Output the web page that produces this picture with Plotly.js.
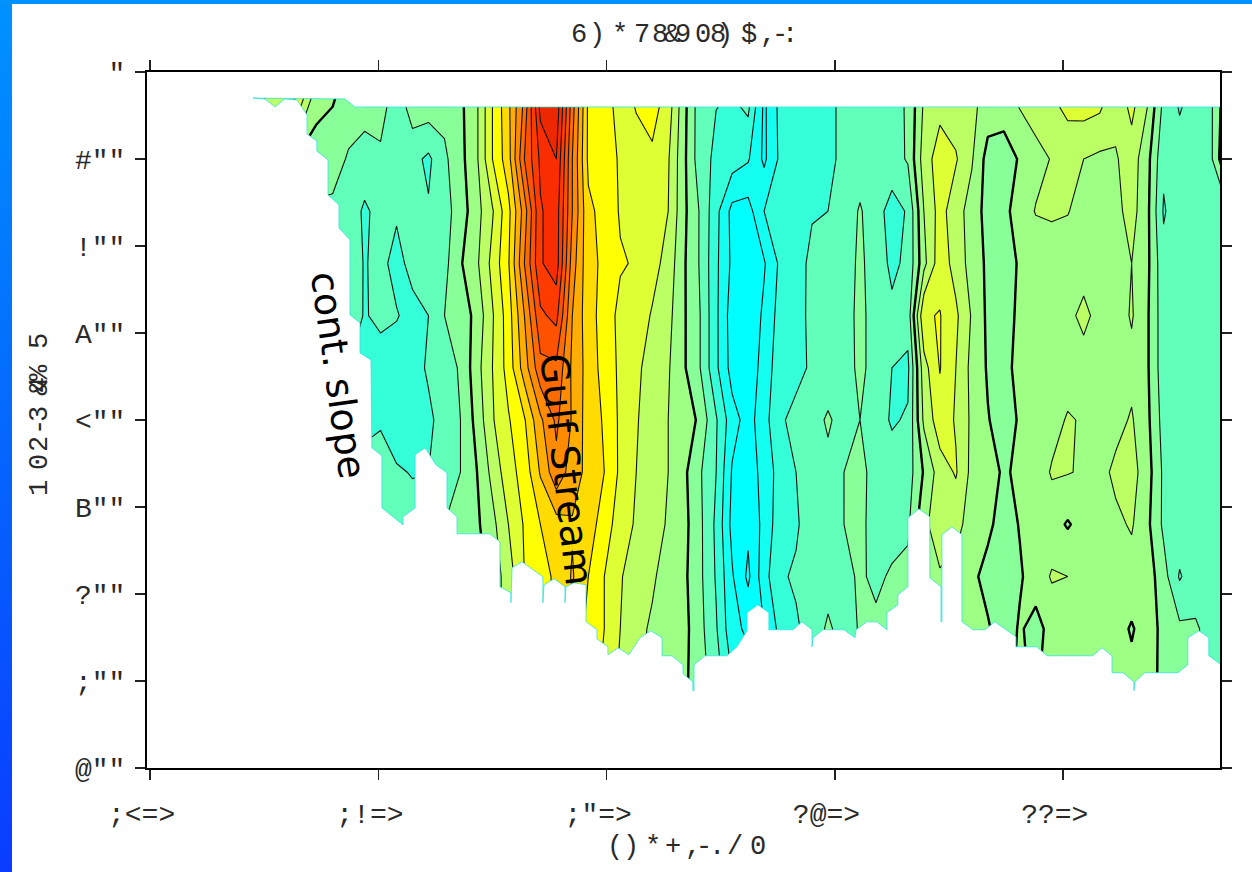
<!DOCTYPE html>
<html>
<head>
<meta charset="utf-8">
<script src="https://cdn.plot.ly/plotly-3.0.1.min.js"></script>
<style>
html,body{margin:0;padding:0;background:#fff;width:1252px;height:872px;overflow:hidden}
#barL{position:absolute;left:0;top:0;width:12px;height:872px;background:linear-gradient(#0092ff,#0a3cff)}
#barT{position:absolute;left:0;top:0;width:1252px;height:4px;background:#0092ff}
#chart{position:absolute;left:0;top:0;width:1252px;height:872px}
</style>
</head>
<body>
<div id="chart"></div>
<div id="barL"></div><div id="barT"></div>
<script>
// axis labels exactly as they appear in the reference
const xTickVals = [0,100,200,300,400];
const xTickText = [';<=>\u00a0',';!=>\u00a0',';"=>\u00a0','?@=>\u00a0','??=>\u00a0'];
const yTickVals = [0,100,200,300,400,500,600,700,800];
const yTickText = ['"','#""','!""','A""','<""','B""','?""',';""','@""'];

const titleChars = ['6',')','*','7','8','&','9','0','8',')','$',',','-',':'];
const xTitleChars = ['(',')','*','+',',','-','.','/','0'];
const yTitleChars = ['5','%','4','&','3','-','2','0','1'];

// section stations
const stations = [45,52,59,66,73,80,87,94,101,108,115,122,129,136,143,150,157,164,171,178,185,192,199,206,213,220,227,234,241,248,255,262,269,276,283,290,297,304,311,318,325,332,339,346,353,360,367,374,381,388,395,402,409,416,423,430,437,444,451,458,465,472];
const depths = [30,100,160,220,280,340,400,460,520,580,640,700,720];

const d30 = [0.5,1.2,1.5,2.4,0.3,0.1,-0.5,-0.7,-0.5,-1.5,-0.3,-0.2,-0.6,-0.2,0.8,3.0,4.8,7.2,11.5,11.8,7.5,3.8,3.3,2.7,3.1,3.5,2.6,0.3,-1.6,-1.95,-2.05,-1.6,-4.2,-2.7,-2.7,-2.5,-2.3,-1.7,-1.4,-1.4,-1.3,-0.9,1.1,1.6,1.4,1.2,0.7,0.6,1.2,1.5,1.9,2.5,2.6,2.4,1.4,2.4,1.1,-1.2,-2.2,-1.6,-1.1,0.8];
const d100 = [-0.4,-0.4,-0.4,-0.4,-0.4,-0.6,-1.1,-1.25,-1.2,-1.6,-1.7,-2.2,-1.2,-0.3,0.8,3.0,4.6,8.0,10.2,11.0,7,3.8,3.4,2.9,2.7,2.8,2.1,0.2,-1.6,-2.2,-2.5,-2.9,-4.2,-2.8,-2.6,-2.5,-2.3,-1.7,-1.5,-1.5,-1.4,-0.9,1.5,2.5,2.1,1.1,-0.4,-0.5,0.1,0.7,1.05,1.15,1.0,0.8,0.9,1.5,0.3,-1.8,-1.5,-1.5,-1.1,1.2];
const d160 = [-1.2,-1.2,-1.2,-1.2,-1.2,-1.2,-1.3,-2.2,-1.6,-1.8,-1.7,-1.9,-1.4,-0.5,0.6,1.9,3.7,6.5,9.9,10.5,7,4.2,3.7,2.9,3.0,2.6,2.0,0.2,-1.1,-2.7,-4.3,-4.4,-3.0,-2.7,-2.5,-2.1,-2.0,-1.6,-0.9,-1.6,-2.4,-1.9,1.0,2.4,1.4,0.6,-0.4,-0.3,0.5,1.05,1.15,1.05,0.6,0.6,0.7,1.4,0.2,-2.1,-1.4,-1.3,-1.3,-1.2];
const d220 = [-1.1,-1.1,-1.1,-1.1,-1.1,-1.1,-1.1,-2.1,-1.6,-2.5,-1.5,-1.4,-1.3,-0.1,0.8,2.3,3.9,7,9.9,10.5,6.5,4.3,3.8,3.1,2.9,2.4,1.6,0.1,-1.1,-2.8,-4.2,-4.6,-4.1,-2.8,-2.5,-1.7,-1.8,-1.5,-0.8,-1.5,-2.2,-1.8,0.7,2.6,1.6,0.6,-0.2,-0.4,0.1,0.4,0.4,0.4,0.5,0.5,0.6,1.0,0.2,-1.7,-1.5,-1.9,-1.4,-1.3];
const d280 = [-1.2,-1.2,-1.2,-1.2,-1.2,-1.2,-1.2,-2.1,-1.7,-1.9,-2.5,-2.0,-1.0,-0.6,0.3,1.9,3.5,6,8.8,9.3,6,4.4,3.6,2.7,2.6,1.9,1.3,0.1,-1,-2.8,-4.5,-4.8,-3.8,-2.6,-2.3,-1.8,-1.9,-1.5,-0.7,-1.5,-1.8,-1.6,2.9,3.05,2.2,0.9,-0.2,-0.4,0.2,0.6,0.5,0.7,1.3,0.6,0.5,1.1,0.1,-1.6,-1.5,-1.8,-1.3,-1.2];
const d340 = [-2,-2,-2,-2,-2,-2,-2,-2.2,-2.6,-2.8,-2.6,-1.8,-1.4,-0.9,0.6,2,3.4,5.5,7.7,7.8,5.8,4.6,3.6,2.8,2.2,1.6,1.1,0.1,-1,-2.8,-4.4,-4.8,-3.5,-2.5,-2.2,-1.9,-1.9,-1.6,-0.7,-1.5,-2,-2.2,1.6,3.05,2,0.7,-0.1,-0.3,0.3,0.5,0.5,0.5,0.5,0.5,0.6,0.7,0.1,-1.6,-1.5,-1.4,-1.3,-1.3];
const d400 = [-2.3,-2.3,-2.3,-2.3,-2.3,-2.3,-2.3,-2.3,-2.1,-3.0,-2.9,-2.3,-1.4,-1,0.3,1.9,2.9,3.9,5.8,7.2,5.9,4.5,3.9,2.8,2.1,1.4,1,0.8,-0.3,-1.9,-3.6,-4.4,-3.4,-2.1,-1.8,-1.6,-0.8,-1.6,-1,-1.6,-2.1,-1.9,1.2,2.6,1.9,0.8,0.05,-0.4,0.1,0.4,0.6,1.1,0.9,0.5,0.7,1.1,0.2,-1.4,-1.4,-1.4,-1.4,-1.2];
const d460 = [-1.6,-1.6,-1.6,-1.6,-1.6,-1.6,-1.6,-1.6,-1.6,-1.8,-2.1,-2,-1.9,-1,-0.05,1.3,2.6,3.4,5.1,6.7,5.5,4.7,4,2.8,2,1.5,1,0.2,-0.9,-2,-4.1,-4.6,-3.6,-2.6,-2,-1.7,-1.4,-1,-0.7,-1.4,-1.6,-1.5,0.1,1.5,2.1,0.7,0.6,-0.2,0.3,0.4,1.1,1.05,0.9,0.7,1.2,1.4,0.4,-1.2,-1.5,-1.4,-1.3,-1.3];
const d520 = [-1.5,-1.5,-1.5,-1.5,-1.5,-1.5,-1.5,-1.5,-1.5,-1.4,-1.3,-1.2,-1,-0.6,-0.2,0.7,2,3.1,4,4.6,4.9,4.4,3.6,2.4,1.9,1.4,0.9,0.3,-0.8,-2.2,-4.3,-4.8,-3.7,-2.4,-2.1,-1.6,-1.6,-1,-0.7,-1.5,-1.6,-1.2,0.8,1.5,1.3,0.6,0.2,-0.4,0.05,0.4,0.4,-0.1,0.4,0.7,0.8,1.1,0.2,-1.2,-1.4,-1.3,-1.3,-1.3];
const d580 = [-0.5,-0.5,-0.5,-0.5,-0.5,-0.5,-0.5,-0.5,-0.5,-0.5,-0.5,-0.5,-0.5,-0.5,-0.5,0.4,1.5,3,3.6,4.2,5.1,4,3,2.1,1.4,1.1,0.7,0.2,-0.8,-2.1,-3.9,-5.2,-3.4,-2.1,-1.9,-1.7,-1.5,-1.4,-0.8,-1.3,-0.8,-0.7,-0.3,0.9,0.7,0.2,-0.3,-0.6,-0.1,0.4,1.1,1,0.5,0.5,0.5,0.6,0.5,-0.6,-2.1,-1.4,-1.3,-1.3];
const d640 = [-0.5,-0.5,-0.5,-0.5,-0.5,-0.5,-0.5,-0.5,-0.5,-0.5,-0.5,-0.5,-0.5,-0.5,-0.5,0.4,1.5,3,3.6,4.2,4.8,3.7,3,2,1.2,0.9,0.7,0.3,-0.7,-1.9,-3.7,-4.2,-4,-2.7,-2.1,-1.7,-0.8,-1.5,-0.9,-0.7,-0.7,-0.5,-0.2,0.3,0.3,0.3,0.1,-0.5,0.1,-0.3,0.3,0.4,0.4,0.4,0.4,-0.1,0.5,-0.3,-0.8,-0.9,-1.3,-1.4];
const d700 = [-0.5,-0.5,-0.5,-0.5,-0.5,-0.5,-0.5,-0.5,-0.5,-0.5,-0.5,-0.5,-0.5,-0.5,-0.5,0.4,1.5,3,3.6,4.2,4.8,3.5,2.8,1.8,1.1,0.8,0.6,0.2,-0.6,-1.5,-3,-3.5,-3,-2.5,-2,-1.5,-1.2,-1.2,-0.9,-0.7,-0.7,-0.5,-0.2,0.3,0.3,0.3,0.1,-0.2,0.1,-0.1,0.3,0.4,0.4,0.4,0.4,0.3,0.3,-0.2,-0.8,-0.9,-1.3,-1.4];
const d720 = [-0.5,-0.5,-0.5,-0.5,-0.5,-0.5,-0.5,-0.5,-0.5,-0.5,-0.5,-0.5,-0.5,-0.5,-0.5,0.4,1.5,3,3.6,4.2,4.8,3.5,2.8,1.8,1.1,0.8,0.6,0.1,-0.6,-1.5,-3,-3.5,-3,-2.5,-2,-1.5,-1.2,-1.2,-0.9,-0.7,-0.7,-0.5,-0.2,0.3,0.3,0.3,0.1,-0.2,0.1,-0.1,0.3,0.4,0.4,0.4,0.4,0.3,0.3,-0.2,-0.8,-0.9,-1.3,-1.4];

// outline of the area with no data: surface gap, then continental slope and sea floor
const floorX = [-3,471,471,89.8,85.4,45.1,50.4,54.8,59.1,64.4,68.8,68.8,73.1,73.1,78,78,82.8,82.8,87.6,87.6,92,92,96.8,97.2,101.6,101.6,110.8,110.8,116.1,116.1,120.5,125.3,130.1,130.1,134.5,134.5,148.9,153.3,153.3,158.1,158.1,158.6,162.9,172.1,172.1,172.6,177,181.8,181.8,182.2,185.7,191,191,195.8,195.8,200.6,200.6,205,209.8,214.6,219.4,224.3,224.3,228.6,233.5,233.5,237.8,237.8,238.3,238.3,243.1,252.7,257.1,261.5,261.5,266.3,271.1,271.1,281.6,285.6,290,290,290.4,294.8,304,308.8,309.3,314,318.4,322.8,322.8,327.6,327.6,332,332,336.8,341.6,341.6,346.5,346.5,346.9,346.9,351.3,355.7,355.7,360.5,365.7,370.1,379.3,379.3,388.5,392.9,413,417,421.4,421.4,426.2,431,431,431.4,435.8,450.3,454.6,454.6,459.5,463.8,463.8,468.7,471,471,-3,-3];
const floorD = [-5,-5,40.2,40.2,31,30,31,40.2,31,32.2,49.4,71.2,79.3,90.8,101,141.3,152.8,179.2,193,279.2,288.4,322.9,330.9,432,441.2,501,520.5,511.3,501,440,432,451.6,460.7,501,511.3,530.8,530.8,540,591.7,598.6,610.1,569.9,563,580.2,610.1,589.4,582.5,591.7,610.1,591.7,587.1,589.4,632,641,651.5,660.7,669.9,661.8,669.9,650.3,642.3,650.3,671,671,681.4,691.7,700.9,711.2,711.2,681.4,671,671,660.7,642.3,621.6,612.4,621.6,641.1,641.1,632,641.1,660.7,650.3,641.1,641.1,650.3,641.1,632,632,641.1,621.6,612.4,601,591.7,512.5,502.1,511.3,581.4,591.7,632,632,532,522.8,532,632,641.1,641.1,632,649.2,660.7,660.7,671,671,661.8,671,690.5,690.5,700.9,711.2,700.9,690.5,690.5,681.4,650.3,642.3,650.3,671,680.2,684.8,805,805,-5];

const bandColors = ['#00FFFF','#00FFFF','#20FFE8','#40FFD0','#70FFB0','#90FF90','#A0FF80','#C0FF60','#E0FF30','#FFFF00','#FFDC00','#FFB000','#FF9000','#FF7000','#FF5800','#FF4000','#FF3000','#F02800','#E82800','#E02800'];

const speed = [d30,d100,d160,d220,d280,d340,d400,d460,d520,d580,d640,d700,d720];
const n = bandColors.length - 1;
const colorscale = bandColors.map((c,i)=>[i/n,c]);

const traces = [
  {type:'contour',x:stations,y:depths,z:speed,autocontour:false,zmin:-5,zmax:13,
   contours:{start:-5,end:13,size:1,coloring:'fill',showlines:true},
   colorscale:colorscale,showscale:false,line:{color:'#111',width:1.1,smoothing:0},hoverinfo:'skip'},
  {type:'contour',x:stations,y:depths,z:speed,autocontour:false,
   contours:{start:0,end:0,size:1,coloring:'none'},
   showscale:false,line:{color:'#000',width:2.4,smoothing:0},hoverinfo:'skip'},
  {type:'scatter',mode:'lines',x:floorX,y:floorD,fill:'toself',fillcolor:'#fff',
   line:{color:'#35dfe0',width:0.8},hoverinfo:'skip',showlegend:false}
];

const W=1252,H=872,L=147,R=1220,T=72,B=768;
const px=x=>(x-L)/(R-L), py=y=>(B-y)/(B-T);
const mono='"Liberation Mono",monospace';
const labelFont={family:mono,size:27,color:'#2a2a2a'};
const tickFont={family:mono,size:28,color:'#2a2a2a'};
const titleX=[579,597,620,642,660,672,683,703,718,725,749,768,780,790];
const xTitleX=[615,631,653,673,693,704,717,735,758];
const yTitleY=[341,373,385,388,414,427,444,462,488];
const annotations=[];
titleChars.forEach((c,i)=>annotations.push({text:c,x:px(titleX[i]),y:py(35),xref:'paper',yref:'paper',showarrow:false,font:labelFont,xanchor:'center',yanchor:'middle'}));
xTitleChars.forEach((c,i)=>annotations.push({text:c,x:px(xTitleX[i]),y:py(847),xref:'paper',yref:'paper',showarrow:false,font:labelFont,xanchor:'center',yanchor:'middle'}));
yTitleChars.forEach((c,i)=>annotations.push({text:c,x:px(40),y:py(yTitleY[i]),xref:'paper',yref:'paper',showarrow:false,font:labelFont,textangle:-90,xanchor:'center',yanchor:'middle'}));
annotations.push({text:'cont. slope',x:px(338),y:py(375),xref:'paper',yref:'paper',showarrow:false,textangle:82,font:{family:'"DejaVu Sans",sans-serif',size:38,color:'#000'},xanchor:'center',yanchor:'middle'});
annotations.push({text:'Gulf Stream',x:px(567),y:py(469),xref:'paper',yref:'paper',showarrow:false,textangle:83.5,font:{family:'"DejaVu Sans",sans-serif',size:39,color:'#000'},xanchor:'center',yanchor:'middle'});

const layout={
  width:W,height:H,paper_bgcolor:'rgba(0,0,0,0)',plot_bgcolor:'#fff',showlegend:false,
  margin:{l:L,r:W-R,t:T,b:H-B,pad:0},
  xaxis:{range:[-1.31,468.7],tickmode:'array',tickvals:xTickVals,ticktext:xTickText,ticks:'outside',ticklen:10,tickwidth:1.5,tickcolor:'#222',
         showline:true,linewidth:2,linecolor:'#000',mirror:'ticks',zeroline:false,showgrid:false,tickfont:tickFont,tickangle:0,ticklabelstandoff:9},
  yaxis:{range:[800,0],tickmode:'array',tickvals:yTickVals,ticktext:yTickText,ticks:'outside',ticklen:10,tickwidth:1.5,tickcolor:'#222',
         showline:true,linewidth:2,linecolor:'#000',mirror:'ticks',zeroline:false,showgrid:false,tickfont:tickFont,ticklabelstandoff:4},
  annotations:annotations
};
Plotly.newPlot('chart',traces,layout,{displayModeBar:false,staticPlot:true});
</script>
</body>
</html>
